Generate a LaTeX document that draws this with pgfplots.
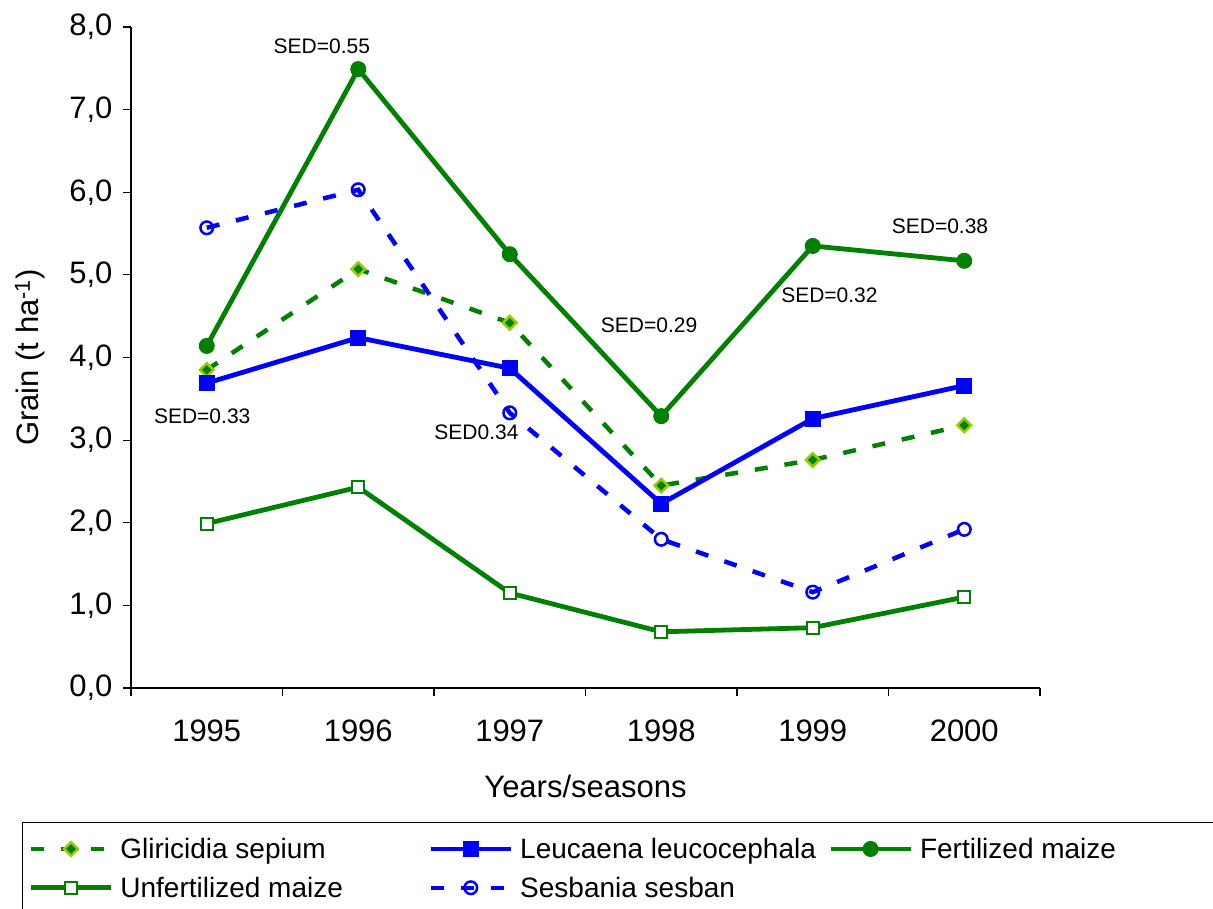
\documentclass[border=0pt]{standalone}
\usepackage{fontspec}
\setmainfont{Liberation Sans}
\usepackage{pgfplots}
\pgfplotsset{compat=1.18}
\definecolor{xgreen}{HTML}{008000}
\definecolor{xblue}{HTML}{0000FF}
\definecolor{xlime}{HTML}{99CC00}
% fixed-width legend cells, Excel style
\newcommand{\lw}[1]{\makebox[306pt][l]{#1}}

\begin{document}
\begin{tikzpicture}
\begin{axis}[
  at={(131pt,220pt)}, anchor=south west,
  scale only axis, width=909pt, height=661pt,
  xmin=-0.5, xmax=5.5, ymin=0, ymax=8,
  clip=false,
  axis lines=left, axis line style={-, line width=1.2pt},
  tick align=outside, major tick length=8pt,
  every tick/.style={black, line width=1.2pt},
  xtick={-0.5,0.5,...,5.5}, xticklabels={},
  extra x ticks={0,1,2,3,4,5},
  extra x tick labels={1995,1996,1997,1998,1999,2000},
  extra x tick style={major tick length=0pt, xticklabel style={yshift=-28pt}},
  ytick={0,1,...,8},
  yticklabels={{0,0},{1,0},{2,0},{3,0},{4,0},{5,0},{6,0},{7,0},{8,0}},
  yticklabel style={xshift=-7pt},
  tick label style={font=\fontsize{31}{37}\selectfont},
  label style={font=\fontsize{31}{37}\selectfont},
  xlabel={Years/seasons},
  ylabel={Grain (t ha\textsuperscript{-1})},
  xlabel style={at={(axis description cs:0.5,0)}, anchor=center, yshift=-98pt},
  ylabel style={at={(axis description cs:-0.111,0.5)}, anchor=center},
  legend columns=3,
  legend cell align=left,
  legend image code/.code={\draw[mark repeat=2, mark phase=2, #1] plot coordinates {(0pt,0pt) (40pt,0pt) (80pt,0pt)};},
  legend style={at={(axis description cs:-0.1199,-0.2027)}, anchor=north west,
    draw=black, line width=1.2pt, fill=white, inner xsep=6pt, inner ysep=13.5pt,
    font=\fontsize{28}{34}\selectfont, nodes={inner sep=2pt}, row sep=13pt,
    /tikz/every odd column/.append style={column sep=5pt}},
]
% Gliricidia sepium
\addplot[xgreen, line width=4.5pt, dash pattern=on 13pt off 17pt,
  mark=square*, mark size=4.8pt, mark options={solid, rotate=45, fill=xgreen, draw=xlime, line width=2.5pt}]
  coordinates {(0,3.85) (1,5.07) (2,4.42) (3,2.45) (4,2.76) (5,3.18)};
\addlegendentry{\lw{Gliricidia sepium}}
% Leucaena leucocephala
\addplot[xblue, line width=4.8pt,
  mark=square*, mark size=7.5pt, mark options={solid, fill=xblue, line width=1pt}]
  coordinates {(0,3.69) (1,4.24) (2,3.87) (3,2.23) (4,3.26) (5,3.66)};
\addlegendentry{\lw{Leucaena leucocephala}}
% Fertilized maize
\addplot[xgreen, line width=4.8pt,
  mark=*, mark size=7.5pt, mark options={solid, fill=xgreen, line width=1pt}]
  coordinates {(0,4.14) (1,7.49) (2,5.25) (3,3.29) (4,5.35) (5,5.17)};
\addlegendentry{\lw{Fertilized maize}}
% Unfertilized maize
\addplot[xgreen, line width=4.8pt,
  mark=square*, mark size=6pt, mark options={solid, fill=white, line width=2pt}]
  coordinates {(0,1.99) (1,2.43) (2,1.15) (3,0.68) (4,0.73) (5,1.10)};
\addlegendentry{\lw{Unfertilized maize}}
% Sesbania sesban
\addplot[xblue, line width=4.5pt, dash pattern=on 13pt off 17pt,
  mark=o, mark size=6.3pt, mark options={solid, line width=2.5pt}]
  coordinates {(0,5.57) (1,6.03) (2,3.33) (3,1.80) (4,1.16) (5,1.92)};
\addlegendentry{\lw{Sesbania sesban}}

\begin{scope}[every node/.style={font=\fontsize{21}{25}\selectfont, inner sep=0pt}]
\node at (axis cs:0.76,7.77) {SED=0.55};
\node at (axis cs:-0.03,3.29) {SED=0.33};
\node at (axis cs:1.78,3.10) {SED0.34};
\node at (axis cs:2.92,4.39) {SED=0.29};
\node at (axis cs:4.11,4.75) {SED=0.32};
\node at (axis cs:4.84,5.59) {SED=0.38};
\end{scope}
\end{axis}
\pgfresetboundingbox
\path[use as bounding box] (0,0) rectangle (1213pt,908pt);
\end{tikzpicture}
\end{document}
